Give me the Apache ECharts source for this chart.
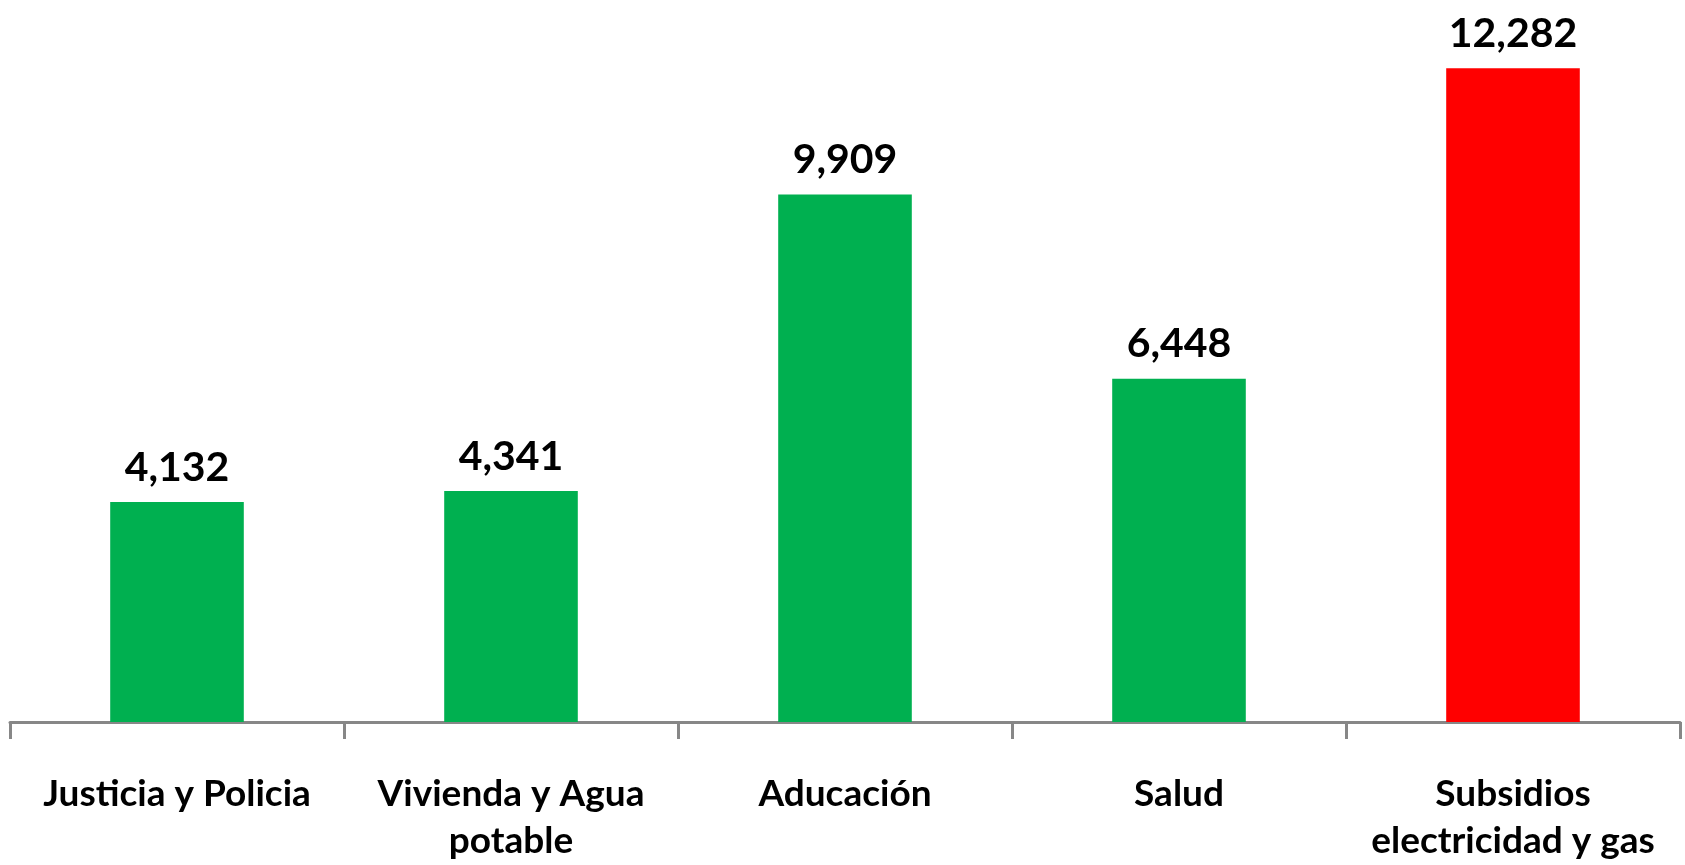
<!DOCTYPE html>
<html>
<head>
<meta charset="utf-8">
<script src="https://cdn.jsdelivr.net/npm/echarts@6/dist/echarts.min.js"></script>
<style>
  html, body { margin: 0; padding: 0; background: #fff; }
  #chart { width: 1685px; height: 865px; }
</style>
</head>
<body>
<div id="chart"></div>
<script>
// categorias y valores
const categories = ['Justicia y Policia', 'Vivienda y Agua\npotable', 'Aducación', 'Salud', 'Subsidios\nelectricidad y gas']
const values = [4132, 4341, 9909, 6448, 12282]
const barColors = ['#00B050', '#00B050', '#00B050', '#00B050', '#FF0000']

function chartInit() {
  const option = {
    animation: false,
    grid: { left: 10, right: 5, top: 30, bottom: 142 },
    xAxis: {
      type: 'category',
      data: categories,
      axisLine: { lineStyle: { color: '#878787', width: 3 } },
      axisTick: { show: true, length: 17, lineStyle: { color: '#878787', width: 3 } },
      axisLabel: {
        margin: 49,
        interval: 0,
        color: '#000',
        fontFamily: 'Lato',
        fontWeight: 'bold',
        fontSize: 37,
        lineHeight: 47
      }
    },
    yAxis: {
      type: 'value',
      min: 0,
      max: 13000,
      show: false,
      splitLine: { show: false }
    },
    series: [
      {
        type: 'bar',
        data: values.map((v, i) => ({ value: v, itemStyle: { color: barColors[i] } })),
        barWidth: '40%',
        label: {
          show: true,
          position: 'top',
          distance: 14,
          color: '#000',
          fontFamily: 'Lato',
          fontWeight: 'bold',
          fontSize: 41,
          formatter: p => p.value.toLocaleString('en-US')
        }
      }
    ]
  }
  const myChart = echarts.init(document.getElementById('chart'), null, { renderer: 'canvas' })
  myChart.setOption(option, true)
}

chartInit()
</script>
</body>
</html>
